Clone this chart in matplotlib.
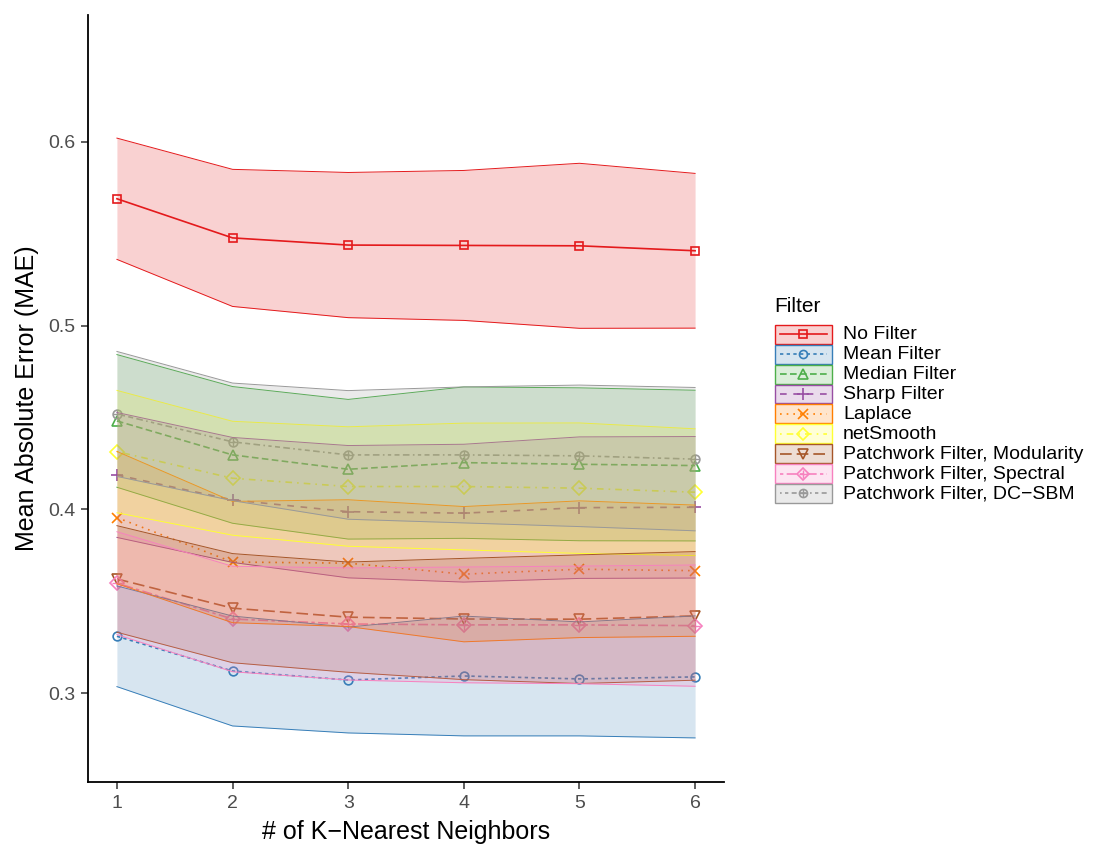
import matplotlib
matplotlib.use("Agg")
import matplotlib.pyplot as plt
from matplotlib.patches import Rectangle
import numpy as np

plt.rcParams['font.family'] = ['Liberation Sans', 'DejaVu Sans']

# --- Data ---
k = [1, 2, 3, 4, 5, 6]

nofilter_mean = [0.5690, 0.5477, 0.5438, 0.5436, 0.5434, 0.5407]
nofilter_sd   = [0.0330, 0.0373, 0.0395, 0.0408, 0.0449, 0.0421]
meanf_mean    = [0.3309, 0.3120, 0.3071, 0.3093, 0.3077, 0.3088]
meanf_sd      = [0.0274, 0.0299, 0.0288, 0.0326, 0.0310, 0.0332]
median_mean   = [0.4481, 0.4296, 0.4218, 0.4254, 0.4245, 0.4238]
median_sd     = [0.0361, 0.0372, 0.0380, 0.0412, 0.0416, 0.0410]
sharp_mean    = [0.4187, 0.4051, 0.3987, 0.3979, 0.4009, 0.4011]
sharp_sd      = [0.0340, 0.0340, 0.0360, 0.0375, 0.0385, 0.0385]
laplace_mean  = [0.3955, 0.3713, 0.3707, 0.3647, 0.3674, 0.3666]
laplace_sd    = [0.0360, 0.0330, 0.0345, 0.0368, 0.0372, 0.0357]
netsmooth_mean = [0.4314, 0.4169, 0.4124, 0.4124, 0.4115, 0.4093]
netsmooth_sd   = [0.0333, 0.0310, 0.0325, 0.0345, 0.0355, 0.0345]
modularity_mean = [0.3621, 0.3462, 0.3413, 0.3403, 0.3402, 0.3420]
modularity_sd   = [0.0290, 0.0297, 0.0300, 0.0330, 0.0350, 0.0350]
spectral_mean = [0.3598, 0.3403, 0.3376, 0.3371, 0.3371, 0.3367]
spectral_sd   = [0.0280, 0.0287, 0.0305, 0.0315, 0.0320, 0.0330]
dcsbm_mean    = [0.4519, 0.4367, 0.4296, 0.4296, 0.4291, 0.4273]
dcsbm_sd      = [0.0340, 0.0320, 0.0350, 0.0370, 0.0385, 0.0390]

labels = ["No Filter", "Mean Filter", "Median Filter", "Sharp Filter", "Laplace",
          "netSmooth", "Patchwork Filter, Modularity", "Patchwork Filter, Spectral",
          "Patchwork Filter, DC\u2212SBM"]
means = [nofilter_mean, meanf_mean, median_mean, sharp_mean, laplace_mean,
         netsmooth_mean, modularity_mean, spectral_mean, dcsbm_mean]
sds = [nofilter_sd, meanf_sd, median_sd, sharp_sd, laplace_sd,
       netsmooth_sd, modularity_sd, spectral_sd, dcsbm_sd]

# --- Styles (ggplot Set1 / default linetypes / shapes) ---
colors = ["#E41A1C", "#377EB8", "#4DAF4A", "#984EA3", "#FF7F00",
          "#FFFF33", "#A65628", "#F781BF", "#999999"]
dashes = [None, (2, 2), (4, 2), (4, 4), (1, 3), (1, 3, 4, 3), (7, 3),
          (2, 2, 6, 2), (1, 2, 2, 2, 3, 2, 4, 2)]
markers = [("s", None), ("o", None), ("^", None), ("+", None), ("x", None),
           ("D", None), ("v", None), ("D", "+"), ("o", "+")]
size_extra = {"s": 0, "o": 0.3, "^": 1.0, "v": 1.0, "D": 0.8, "+": 3.0, "x": 1.8}

fig = plt.figure(figsize=(11.07, 8.48), dpi=100)
ax = fig.add_axes([88/1107, 1-782/848, (724-88)/1107, (782-15)/848])

x = np.array(k)
lw = 1.2
MS = 6.0

def put_marker(axis, xs, ys, i, ms, z):
    m1, m2 = markers[i]
    size = ms + size_extra[m1]
    axis.plot(xs, ys, linestyle="none", marker=m1, ms=size, mfc="none",
              mec=colors[i], mew=1.2, zorder=z)
    if m2:
        axis.plot(xs, ys, linestyle="none", marker=m2, ms=size, mec=colors[i],
                  mew=1.0, zorder=z)

def draw_series(axis, xs, ys, i, ms=MS, z=1):
    ls = "-" if dashes[i] is None else (0, dashes[i])
    axis.plot(xs, ys, color=colors[i], lw=lw, linestyle=ls, zorder=z)
    if ms > 0:
        put_marker(axis, xs, ys, i, ms, z + 0.5)

# lines and points first, ribbons on top (as in the reference)
for i in range(len(labels)):
    draw_series(ax, x, means[i], i)

for i in range(len(labels)):
    m = np.array(means[i]); s = np.array(sds[i])
    z = 2 + i * 0.01
    ax.fill_between(x, m - s, m + s, color=colors[i], alpha=0.2, lw=0, zorder=z)
    ax.plot(x, m + s, color=colors[i], lw=0.7, zorder=z)
    ax.plot(x, m - s, color=colors[i], lw=0.7, zorder=z)

ax.set_xlim(0.75, 6.25)
ax.set_ylim(0.2516, 0.669)
ax.set_xticks(k)
ax.set_yticks([0.3, 0.4, 0.5, 0.6])
ax.set_yticklabels(["0.3", "0.4", "0.5", "0.6"])
for sp in ["top", "right"]:
    ax.spines[sp].set_visible(False)
for sp in ["left", "bottom"]:
    ax.spines[sp].set_linewidth(1.3)
    ax.spines[sp].set_zorder(5)
ax.tick_params(length=5, width=1.1, color="#333333", labelsize=14, labelcolor="#4D4D4D", pad=4)
ax.set_xlabel("# of K\u2212Nearest Neighbors", fontsize=18, labelpad=6)
ax.set_ylabel("Mean Absolute Error (MAE)", fontsize=18, labelpad=7)

# --- Legend drawn in figure pixel coordinates ---
lg = fig.add_axes([0, 0, 1, 1])
lg.set_xlim(0, 1107); lg.set_ylim(848, 0); lg.axis("off")
lg.text(774, 312, "Filter", fontsize=15, va="baseline", ha="left")
top = 324.3
h = 19.9
for i, lab in enumerate(labels):
    y0 = top + i * h
    cy = y0 + h / 2
    lg.add_patch(Rectangle((774.5, y0 + 0.5), 57, h - 1, facecolor=colors[i], alpha=0.2, lw=0, zorder=1))
    lg.add_patch(Rectangle((774.5, y0 + 0.5), 57, h - 1, facecolor="none", edgecolor=colors[i], lw=1.0, zorder=1))
    draw_series(lg, [780, 827], [cy, cy], i, ms=0, z=2)
    put_marker(lg, [803], [cy], i, 5.5, 3)
    lg.text(843, cy + 0.5, lab, fontsize=14, va="center", ha="left")

fig.savefig("out.png", dpi=100)
